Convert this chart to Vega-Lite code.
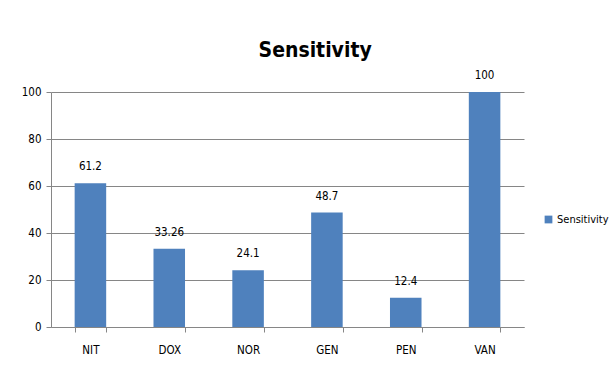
{
  "$schema": "https://vega.github.io/schema/vega-lite/v6.json",
  "autosize": "none",
  "width": 473,
  "height": 235,
  "padding": {"left": 51, "top": 92, "right": 86, "bottom": 41},
  "background": "white",
  "title": {
    "text": "Sensitivity",
    "font": "DejaVu Sans Condensed, Liberation Sans Narrow, Liberation Sans",
    "fontSize": 21,
    "fontWeight": "bold",
    "color": "#000000",
    "anchor": "middle",
    "frame": "bounds",
    "offset": 9
  },
  "config": {
    "view": {"stroke": null},
    "font": "DejaVu Sans Condensed, Liberation Sans Narrow, Liberation Sans"
  },
  "data": {
    "values": [
      {"drug": "NIT", "value": 61.2, "label": "61.2", "series": "Sensitivity"},
      {"drug": "DOX", "value": 33.26, "label": "33.26", "series": "Sensitivity"},
      {"drug": "NOR", "value": 24.1, "label": "24.1", "series": "Sensitivity"},
      {"drug": "GEN", "value": 48.7, "label": "48.7", "series": "Sensitivity"},
      {"drug": "PEN", "value": 12.4, "label": "12.4", "series": "Sensitivity"},
      {"drug": "VAN", "value": 100, "label": "100", "series": "Sensitivity"}
    ]
  },
  "encoding": {
    "x": {
      "field": "drug",
      "type": "nominal",
      "sort": null,
      "scale": {"paddingInner": 0.6, "paddingOuter": 0.3},
      "axis": {
        "title": null,
        "labelAngle": 0,
        "labelFontSize": 11.5,
        "labelColor": "#000000",
        "labelPadding": 12,
        "tickBand": "extent",
        "tickSize": 5,
        "tickColor": "#868686",
        "domainColor": "#868686"
      }
    },
    "y": {
      "field": "value",
      "type": "quantitative",
      "scale": {"domain": [0, 100]},
      "axis": {
        "title": null,
        "values": [0, 20, 40, 60, 80, 100],
        "labelFontSize": 11.5,
        "labelColor": "#000000",
        "labelPadding": 5,
        "tickSize": 5,
        "tickColor": "#868686",
        "domainColor": "#868686",
        "gridColor": "#868686",
        "grid": true
      }
    }
  },
  "layer": [
    {
      "mark": {"type": "bar", "color": "#4F81BD"},
      "encoding": {
        "color": {
          "field": "series",
          "type": "nominal",
          "scale": {"range": ["#4F81BD"]},
          "legend": {
            "title": null,
            "orient": "none",
            "legendX": 492,
            "legendY": 122,
            "symbolType": "square",
            "symbolSize": 60,
            "labelFontSize": 11,
            "labelColor": "#000000",
            "labelOffset": 3
          }
        }
      }
    },
    {
      "mark": {"type": "text", "baseline": "bottom", "dy": -11, "fontSize": 11.5, "color": "#000000"},
      "encoding": {"text": {"field": "label"}}
    }
  ]
}
